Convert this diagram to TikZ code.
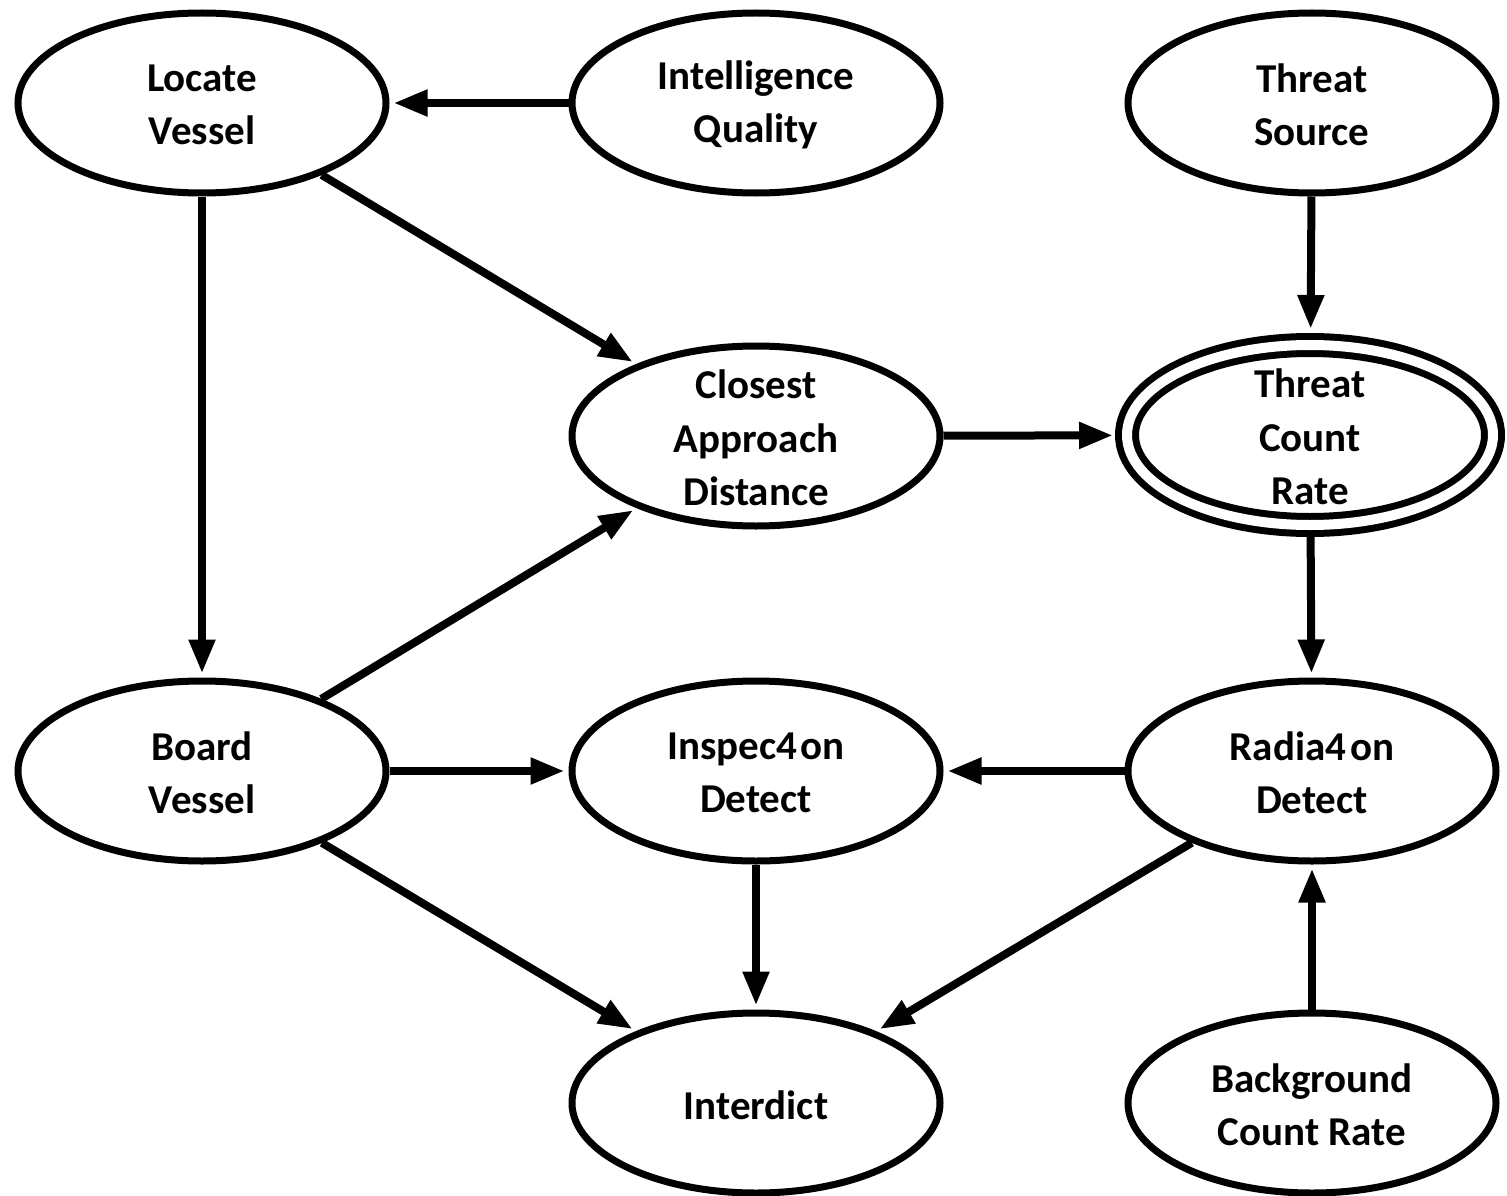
\documentclass[tikz,border=0pt]{standalone}
\usepackage{fontspec}
\setmainfont{Carlito}
\usetikzlibrary{shapes.geometric,arrows.meta}
\begin{document}
\begin{tikzpicture}[x=1pt,y=-1pt,
  var/.style={ellipse, draw, line width=7pt, minimum width=368pt, minimum height=180pt, inner sep=0pt},
  goal/.style={ellipse, draw, line width=7pt, double, double distance=10pt,
               minimum width=366pt, minimum height=180pt, inner sep=0pt, outer sep=12pt},
  lbl/.style={align=center, font=\bfseries\fontsize{41}{53.5}\selectfont, inner sep=0pt, yshift=-2pt},
  link/.style={line width=8pt, -{Triangle[length=34pt,width=25pt]}, shorten >=4pt}
]
\useasboundingbox (0,0) rectangle (1507,1196);

% variables
\node[var] (locate) at (202,103) {};
\node[lbl] (locateT) at (locate) {Locate\\Vessel};
\node[var] (intel) at (756,103) {};
\node[lbl] (intelT) at (intel) {Intelligence\\Quality};
\node[var] (tsource) at (1312,103) {};
\node[lbl] (tsourceT) at (tsource) {Threat\\Source};

\node[var] (closest) at (756,436) {};
\node[lbl] (closestT) at (closest) {Closest\\Approach\\Distance};
\node[goal] (tcr) at (1310,435) {};
\node[lbl] (tcrT) at (tcr) {Threat\\Count\\Rate};

\node[var] (board) at (202,771) {};
\node[lbl] (boardT) at (board) {Board\\Vessel};
\node[var] (insp) at (756,771) {};
\node[lbl] (inspT) at (insp) {Inspec4\kern4pt on\\Detect};
\node[var] (raddet) at (1312,771) {};
\node[lbl] (raddetT) at (raddet) {Radia4\kern4pt on\\Detect};

\node[var] (interdict) at (756,1103) {};
\node[lbl] (interdictT) at (interdict) {Interdict};
\node[var] (bg) at (1312,1103) {};
\node[lbl] (bgT) at (bg) {Background\\Count Rate};

% dependencies
\draw[link] (intel) -- (locate);
\draw[link] (locate) -- (board);
\draw[link] (locate) -- (closest);
\draw[link] (board) -- (closest);
\draw[link,shorten >=2pt] (closest) -- (tcr);
\draw[link] (tsource) -- (tcr);
\draw[link] (tcr) -- (raddet);
\draw[link] (board) -- (insp);
\draw[link] (raddet) -- (insp);
\draw[link] (board) -- (interdict);
\draw[link] (insp) -- (interdict);
\draw[link] (raddet) -- (interdict);
\draw[link] (bg) -- (raddet);
\end{tikzpicture}
\end{document}
